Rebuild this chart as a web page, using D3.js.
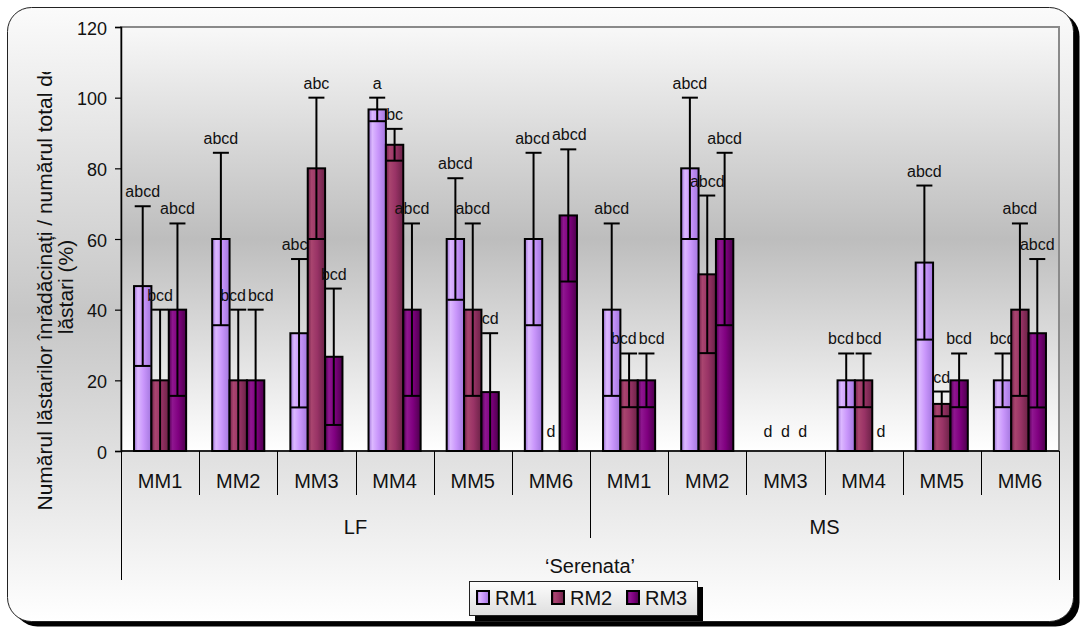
<!DOCTYPE html>
<html><head><meta charset="utf-8">
<script src="https://cdn.jsdelivr.net/npm/d3@7"></script>
<style>
body{margin:0;background:#fff}
svg{display:block}
text{font-family:"Liberation Sans",Arial,sans-serif;fill:#111}
</style>
</head><body>
<svg id="chart" width="1082" height="629"></svg>
<script>
// Rooting percentage per culture medium (LF / MS) and multiplication medium (MM1–MM6)
const media = ["LF", "MS"];
const treatments = ["MM1", "MM2", "MM3", "MM4", "MM5", "MM6"];
const seriesNames = ["RM1", "RM2", "RM3"];
const cultivar = "\u2018Serenata\u2019";
const yTicks = [0, 20, 40, 60, 80, 100, 120];
const titleLines = ["Numărul lăstarilor înrădăcinați / numărul total de", "lăstari (%)"];

// values ordered LF MM1..MM6, then MS MM1..MM6
const rm1Values = [46.67, 60, 33.33, 96.67, 60, 60, 40, 80, 0, 20, 53.33, 20];
const rm2Values = [20, 20, 80, 86.67, 40, 0, 20, 50, 0, 20, 13.33, 40];
const rm3Values = [40, 20, 26.67, 40, 16.67, 66.67, 20, 60, 0, 0, 20, 33.33];
const rm1Errors = [22.6, 24.4, 21, 3.33, 17.2, 24.4, 24.4, 20, 0, 7.6, 21.8, 7.6];
const rm2Errors = [20, 20, 20, 4.5, 24.4, 0, 7.6, 22.3, 0, 7.6, 3.5, 24.4];
const rm3Errors = [24.4, 20, 19.3, 24.4, 16.67, 18.7, 7.6, 24.4, 0, 0, 7.6, 21];
const rm1Letters = ["abcd", "abcd", "abcd", "a", "abcd", "abcd", "abcd", "abcd", "d", "bcd", "abcd", "bcd"];
const rm2Letters = ["bcd", "bcd", "abc", "bc", "abcd", "d", "bcd", "abcd", "d", "bcd", "cd", "abcd"];
const rm3Letters = ["abcd", "bcd", "bcd", "abcd", "cd", "abcd", "bcd", "abcd", "d", "d", "bcd", "abcd"];

const seriesData = [
  {name: seriesNames[0], values: rm1Values, errors: rm1Errors, letters: rm1Letters},
  {name: seriesNames[1], values: rm2Values, errors: rm2Errors, letters: rm2Letters},
  {name: seriesNames[2], values: rm3Values, errors: rm3Errors, letters: rm3Letters}
];
const groups = [];
media.forEach(m => treatments.forEach(t => groups.push(m + "|" + t)));

const svg = d3.select("#chart");
const defs = svg.append("defs");

function vGrad(id, stops) {
  const g = defs.append("linearGradient").attr("id", id)
    .attr("x1", 0).attr("y1", 0).attr("x2", 0).attr("y2", 1);
  stops.forEach(s => g.append("stop").attr("offset", s[0]).attr("stop-color", s[1]));
}
function hGrad(id, stops) {
  const g = defs.append("linearGradient").attr("id", id)
    .attr("x1", 0).attr("y1", 0).attr("x2", 1).attr("y2", 0);
  stops.forEach(s => g.append("stop").attr("offset", s[0]).attr("stop-color", s[1]));
}
vGrad("bgOuter", [[0, "#fbfbfb"], [0.5, "#c6c6c6"], [1, "#ffffff"]]);
vGrad("bgPlot", [[0, "#f8f8f8"], [0.5, "#bdbdbd"], [1, "#ffffff"]]);
vGrad("bgLegend", [[0, "#fdfdfd"], [1, "#dedede"]]);
const barColors = {
  RM1: ["#9c72d6", "#dcb8ff", "#c996fb", "#a377de"],
  RM2: ["#6e2149", "#a9456f", "#993366", "#6a2246"],
  RM3: ["#4f004f", "#8f1690", "#800080", "#4c004c"]
};
seriesNames.forEach(n => {
  const c = barColors[n];
  hGrad("bar" + n, [[0, c[0]], [0.22, c[1]], [0.55, c[2]], [1, c[3]]]);
});

// chart frame with drop shadow
svg.append("rect").attr("x", 13.5).attr("y", 12.5).attr("width", 1066).attr("height", 614)
  .attr("rx", 24).attr("fill", "#000");
svg.append("rect").attr("x", 7.5).attr("y", 7.5).attr("width", 1066).attr("height", 614)
  .attr("rx", 24).attr("fill", "url(#bgOuter)").attr("stroke", "#222").attr("stroke-width", 1);

const plot = {left: 121, top: 27, right: 1059, bottom: 451};

const x = d3.scaleBand().domain(groups).range([plot.left, plot.right]).padding(0);
const inner = d3.scaleBand().domain(seriesNames).range([0, x.bandwidth()])
  .paddingInner(0).paddingOuter(0.75);
const y = d3.scaleLinear().domain([0, 120]).range([plot.bottom, plot.top]);

// plot area
svg.append("rect").attr("x", plot.left).attr("y", plot.top)
  .attr("width", plot.right - plot.left).attr("height", plot.bottom - plot.top)
  .attr("fill", "url(#bgPlot)").attr("stroke", "#8a8a8a").attr("stroke-width", 2);

// y axis
const yAxis = d3.axisLeft(y).tickValues(yTicks).tickSize(6).tickPadding(8).tickFormat(d3.format("d"));
const yg = svg.append("g").attr("transform", `translate(${plot.left},0)`).call(yAxis);
yg.select(".domain").attr("stroke", "#000").attr("stroke-width", 1.5);
yg.selectAll(".tick line").attr("stroke", "#000").attr("stroke-width", 1.2);
yg.selectAll(".tick text").attr("font-size", 18).attr("fill", "#111")
  .attr("font-family", "Liberation Sans, Arial, sans-serif").attr("dy", "0.4em");

// axis title, clipped at the top of its text box
const clip = defs.append("clipPath").attr("id", "titleClip");
clip.append("rect").attr("x", 0).attr("y", 72).attr("width", 110).attr("height", 500);
const title = svg.append("g").attr("clip-path", "url(#titleClip)");
titleLines.forEach((t, i) => {
  title.append("text")
    .attr("transform", `translate(${52 + i * 21},287) rotate(-90)`)
    .attr("text-anchor", "middle").attr("font-size", 21).text(t);
});

// bars, error bars and significance letters, drawn series by series
const cap = 8;
const labelNodes = groups.map(() => []);
seriesData.forEach((s, si) => {
  const g = svg.append("g");
  const rows = groups.map((grp, i) => ({grp, gi: i, v: s.values[i], e: s.errors[i], l: s.letters[i]}));
  const cx = d => x(d.grp) + inner(s.name) + inner.bandwidth() / 2;
  g.selectAll("rect.bar").data(rows).join("rect")
    .attr("class", "bar")
    .attr("x", d => x(d.grp) + inner(s.name))
    .attr("y", d => y(d.v))
    .attr("width", inner.bandwidth())
    .attr("height", d => y(0) - y(d.v))
    .attr("fill", `url(#bar${s.name})`)
    .attr("stroke", "#000").attr("stroke-width", 2);
  const eb = g.selectAll("g.err").data(rows.filter(d => d.e > 0)).join("g").attr("class", "err")
    .attr("stroke", "#000").attr("stroke-width", 2);
  eb.append("line").attr("x1", cx).attr("x2", cx)
    .attr("y1", d => y(Math.max(0, d.v - d.e))).attr("y2", d => y(d.v + d.e));
  eb.append("line").attr("x1", d => cx(d) - cap).attr("x2", d => cx(d) + cap)
    .attr("y1", d => y(d.v + d.e)).attr("y2", d => y(d.v + d.e));
  eb.append("line").attr("x1", d => cx(d) - cap).attr("x2", d => cx(d) + cap)
    .attr("y1", d => y(Math.max(0, d.v - d.e))).attr("y2", d => y(Math.max(0, d.v - d.e)));
  g.selectAll("text.lbl").data(rows).join("text").attr("class", "lbl")
    .attr("x", cx).attr("y", d => y(d.v + d.e) - (d.v + d.e === 0 ? 14 : 9))
    .attr("text-anchor", "middle").attr("font-size", 16).text(d => d.l)
    .each(function(d) { labelNodes[d.gi][si] = this; });
});

// nudge neighbouring letter labels of a group apart where they collide
labelNodes.forEach(nodes => {
  const items = nodes.map(n => ({
    n, x: +n.getAttribute("x"), y: +n.getAttribute("y"), w: n.getComputedTextLength()
  }));
  for (let pass = 0; pass < 4; pass++) {
    for (let a = 0; a < items.length; a++) {
      for (let b = a + 1; b < items.length; b++) {
        const A = items[a], B = items[b];
        if (Math.abs(A.y - B.y) >= 15) continue;
        const ov = (A.x + A.w / 2 + 2) - (B.x - B.w / 2);
        if (ov > 0) { A.x -= ov / 2; B.x += ov / 2; }
      }
    }
  }
  items.forEach(it => it.n.setAttribute("x", it.x));
});

// multi-level category axis
const axisG = svg.append("g").attr("stroke", "#000");
axisG.append("line").attr("x1", plot.left).attr("x2", plot.right)
  .attr("y1", plot.bottom).attr("y2", plot.bottom).attr("stroke-width", 1.5);
groups.forEach((grp, i) => {
  if (i === 0) return;
  const xx = Math.round(x(grp)) + 0.5;
  const len = (i % treatments.length === 0) ? 538 : 495;
  axisG.append("line").attr("x1", xx).attr("x2", xx).attr("y1", plot.bottom).attr("y2", len).attr("stroke-width", 1);
});
[plot.left + 0.5, plot.right + 0.5].forEach(xx =>
  axisG.append("line").attr("x1", xx).attr("x2", xx).attr("y1", plot.bottom).attr("y2", 580).attr("stroke-width", 1));

svg.append("g").selectAll("text").data(groups).join("text")
  .attr("x", d => x(d) + x.bandwidth() / 2).attr("y", 488)
  .attr("text-anchor", "middle").attr("font-size", 20).text(d => d.split("|")[1]);
svg.append("g").selectAll("text").data(media).join("text")
  .attr("x", d => {
    const a = x(d + "|" + treatments[0]);
    const b = x(d + "|" + treatments[treatments.length - 1]) + x.bandwidth();
    return (a + b) / 2;
  }).attr("y", 534)
  .attr("text-anchor", "middle").attr("font-size", 20).text(d => d);
svg.append("text").attr("x", (plot.left + plot.right) / 2).attr("y", 573)
  .attr("text-anchor", "middle").attr("font-size", 20).text(cultivar);

// legend
const lg = svg.append("g").attr("transform", "translate(469,581)");
lg.append("rect").attr("x", 6).attr("y", 6).attr("width", 228).attr("height", 34).attr("fill", "#000");
lg.append("rect").attr("x", 0.5).attr("y", 0.5).attr("width", 228).attr("height", 34)
  .attr("fill", "url(#bgLegend)").attr("stroke", "#222").attr("stroke-width", 1);
const items = lg.selectAll("g.item").data(seriesNames).join("g").attr("class", "item")
  .attr("transform", (d, i) => `translate(${8 + i * 75},0)`);
items.append("rect").attr("x", 0).attr("y", 10).attr("width", 12).attr("height", 13)
  .attr("fill", d => `url(#bar${d})`).attr("stroke", "#000").attr("stroke-width", 2);
items.append("text").attr("x", 18).attr("y", 24).attr("font-size", 20).text(d => d);
</script>
</body></html>
